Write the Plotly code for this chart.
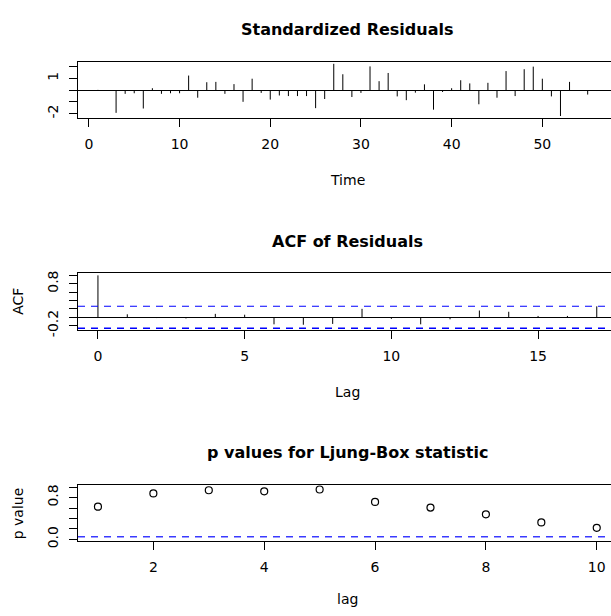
import plotly.graph_objects as go

# ---------------- data ----------------
time = list(range(1, 57))
resid = [0.02, -0.05, -1.94, -0.32, -0.27, -1.57, 0.16, -0.32, -0.27, -0.27,
         1.24, -0.65, 0.67, 0.70, -0.32, 0.51, -1.00, 0.97, -0.24, -0.81,
         -0.46, -0.51, -0.51, -0.51, -1.54, -0.76, 2.24, 1.35, -0.59, -0.24,
         2.02, 0.76, 1.46, -0.54, -0.86, -0.22, 0.49, -1.67, -0.16, 0.16,
         0.84, 0.57, -1.21, 0.62, -0.65, 1.62, -0.51, 1.78, 2.00, 0.97,
         -0.54, -2.21, 0.70, -0.05, -0.38, -0.08]

acf_lag = list(range(0, 18))
acf_val = [1.0, 0.07, -0.02, -0.03, 0.08, 0.06, -0.17, -0.18, -0.16, 0.20,
           -0.04, -0.17, -0.05, 0.16, 0.13, 0.03, 0.03, 0.26]
acf_ci = 0.262

lb_lag = list(range(1, 11))
lb_p = [0.625, 0.88, 0.94, 0.92, 0.955, 0.717, 0.608, 0.48, 0.323, 0.22]
p_ref = 0.05

time_ticks = [0, 10, 20, 30, 40, 50, 60]
res_yticks = [-2, -1, 0, 1, 2]
res_ylabels = ["-2", "", "", "1", ""]
acf_xticks = [0, 5, 10, 15]
acf_yticks = [-0.2, 0.0, 0.2, 0.4, 0.6, 0.8, 1.0]
acf_ylabels = ["-0.2", "", "", "", "", "0.8", ""]
lb_xticks = [2, 4, 6, 8, 10]
lb_yticks = [0.0, 0.2, 0.4, 0.6, 0.8, 1.0]
lb_ylabels = ["0.0", "", "", "", "0.8", ""]

# ---------------- helpers ----------------
W, H = 611, 616
L = 78
FONT = "DejaVu Sans, Open Sans, sans-serif"
DASH = "7px,6px"


def rexp(lo, hi):
    r = hi - lo
    return [lo - 0.04 * r, hi + 0.04 * r]


def ydom(top_px, bot_px):
    return [1 - bot_px / H, 1 - top_px / H]


def segs(xs, ys):
    X, Y = [], []
    for a, b in zip(xs, ys):
        X += [a, a, None]
        Y += [0, b, None]
    return X, Y


def px_to_x(rng_full, px):
    # full R plot region spans L .. 616.7 px
    lo, hi = rng_full
    return lo + (px - L) / (616.7 - L) * (hi - lo)


fig = go.Figure()

# panel 1 : standardized residuals
xr1 = rexp(min(time), max(time))
yr1 = rexp(min(resid), max(resid))
X, Y = segs(time, resid)
fig.add_trace(go.Scatter(x=X, y=Y, mode="lines", line=dict(color="black", width=1),
                         xaxis="x", yaxis="y", hoverinfo="skip"))

# panel 2 : ACF
xr2 = rexp(min(acf_lag), max(acf_lag))
yr2 = rexp(min(min(acf_val), -acf_ci), max(max(acf_val), acf_ci))
X, Y = segs(acf_lag, acf_val)
fig.add_trace(go.Scatter(x=X, y=Y, mode="lines", line=dict(color="black", width=1),
                         xaxis="x2", yaxis="y2", hoverinfo="skip"))

# panel 3 : Ljung-Box p values
xr3 = rexp(min(lb_lag), max(lb_lag))
yr3 = rexp(0, 1)
fig.add_trace(go.Scatter(x=lb_lag, y=lb_p, mode="markers",
                         marker=dict(symbol="circle-open", size=7, color="black",
                                     line=dict(width=1.2, color="black")),
                         xaxis="x3", yaxis="y3", hoverinfo="skip"))


def vis(r):
    # visible x range: plot region is clipped at the window edge
    return [r[0], px_to_x(r, W)]


doms = [ydom(59.7, 117.0), ydom(274.7, 332.7), ydom(490.0, 547.3)]

axis_common = dict(showgrid=False, showline=True, linecolor="black", linewidth=1,
                   ticks="outside", ticklen=8, tickwidth=1, tickcolor="black",
                   tickfont=dict(family=FONT, size=14, color="black"))

fig.update_layout(
    width=W, height=H, margin=dict(l=L, r=0, t=0, b=0),
    paper_bgcolor="white", plot_bgcolor="white", showlegend=False,
    font=dict(family=FONT, color="black"),
    xaxis=dict(domain=[0, 1], range=vis(xr1), anchor="y", tickvals=time_ticks,
               mirror=True, zeroline=False, ticklabelstandoff=5, **axis_common),
    yaxis=dict(domain=doms[0], range=yr1, anchor="x", tickvals=res_yticks,
               ticktext=res_ylabels, tickangle=-90, zeroline=True,
               zerolinecolor="black", zerolinewidth=1, ticklabelstandoff=5,
               **axis_common),
    xaxis2=dict(domain=[0, 1], range=vis(xr2), anchor="y2", tickvals=acf_xticks,
                mirror=True, zeroline=False, ticklabelstandoff=5, **axis_common),
    yaxis2=dict(domain=doms[1], range=yr2, anchor="x2", tickvals=acf_yticks,
                ticktext=acf_ylabels, tickangle=-90, zeroline=True,
                zerolinecolor="black", zerolinewidth=1, ticklabelstandoff=5,
                **axis_common),
    xaxis3=dict(domain=[0, 1], range=vis(xr3), anchor="y3", tickvals=lb_xticks,
                mirror=True, zeroline=False, ticklabelstandoff=5, **axis_common),
    yaxis3=dict(domain=doms[2], range=yr3, anchor="x3", tickvals=lb_yticks,
                ticktext=lb_ylabels, tickangle=-90, zeroline=False,
                ticklabelstandoff=5, **axis_common),
)

# dashed reference lines
fig.add_shape(type="line", xref="x2 domain", yref="y2", x0=0, x1=1, y0=acf_ci, y1=acf_ci,
              line=dict(color="blue", width=1.2, dash=DASH))
fig.add_shape(type="line", xref="x2 domain", yref="y2", x0=0, x1=1, y0=-acf_ci, y1=-acf_ci,
              line=dict(color="blue", width=1.6, dash=DASH))
fig.add_shape(type="line", xref="x3 domain", yref="y3", x0=0, x1=1, y0=p_ref, y1=p_ref,
              line=dict(color="#3a3aff", width=1.4, dash=DASH))

# titles and axis titles
cx = (347.2 - L) / (W - L)
titles = [("Standardized Residuals", 27), ("ACF of Residuals", 242),
          ("p values for Ljung-Box statistic", 457)]
for txt, ypx in titles:
    fig.add_annotation(text="<b>%s</b>" % txt, xref="paper", yref="paper", x=cx,
                       y=1 - ypx / H, showarrow=False, xanchor="center", yanchor="middle",
                       font=dict(family=FONT, size=16, color="black"))
for txt, ypx in [("Time", 180), ("Lag", 395), ("lag", 606)]:
    fig.add_annotation(text=txt, xref="paper", yref="paper", x=cx, y=1 - ypx / H,
                       showarrow=False, xanchor="center", yanchor="middle",
                       font=dict(family=FONT, size=14, color="black"))
for txt, ycen in [("ACF", 303.7), ("p value", 518.7)]:
    fig.add_annotation(text=txt, xref="paper", yref="paper", x=(18 - L) / (W - L),
                       y=1 - ycen / H, showarrow=False, textangle=-90,
                       xanchor="center", yanchor="middle",
                       font=dict(family=FONT, size=14, color="black"))

fig.write_html("out.html", config={"displayModeBar": False},
               post_script="document.body.style.margin='0';"
                           "document.body.style.overflow='hidden';")
